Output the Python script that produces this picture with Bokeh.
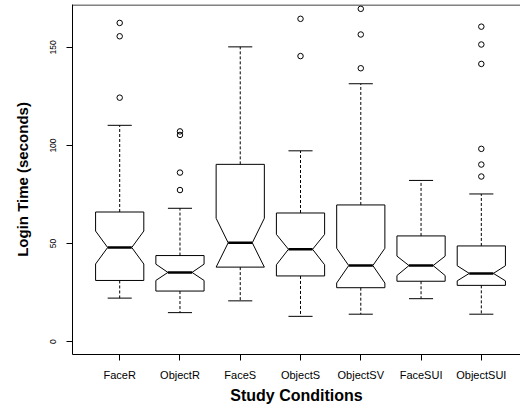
from bokeh.plotting import figure
from bokeh.models import Range1d, FixedTicker, Span
from bokeh.embed import file_html
from bokeh.resources import INLINE

conditions = ["FaceR", "ObjectR", "FaceS", "ObjectS", "ObjectSV", "FaceSUI", "ObjectSUI"]
lower = [22.2, 14.8, 20.8, 12.9, 14.0, 21.9, 14.0]
q1 = [31.2, 25.8, 38.0, 33.5, 27.5, 30.8, 28.7]
median = [48.0, 35.3, 50.4, 47.1, 38.8, 38.8, 34.8]
q3 = [66.1, 43.9, 90.4, 65.6, 69.7, 53.9, 48.8]
upper = [110.3, 68.0, 150.3, 97.3, 131.5, 82.2, 75.3]
notch_lo = [39.6, 31.2, 38.0, 39.2, 29.9, 33.7, 31.0]
notch_hi = [56.4, 39.5, 62.9, 54.7, 47.6, 43.6, 38.7]
outliers = [
    [162.5, 155.7, 124.4],
    [107.2, 105.4, 86.2, 77.3],
    [],
    [164.6, 145.6],
    [169.7, 156.6, 139.4],
    [],
    [160.6, 151.5, 141.6, 98.3, 90.3, 84.2],
]
y_ticks = [0, 50, 100, 150]

FONT = "Liberation Sans"
half_w = 0.4
x_pos = list(range(1, len(conditions) + 1))
Y_END = 171.9

p = figure(width=520, height=406,
           x_range=Range1d(0.2169, 7.650), y_range=Range1d(-6.55, Y_END),
           output_backend="svg", toolbar_location=None,
           min_border_left=72, min_border_right=0, min_border_top=4, min_border_bottom=48)
p.background_fill_color = "white"
p.border_fill_color = "white"
p.outline_line_color = None
p.xgrid.visible = False
p.ygrid.visible = False

# notched boxes
xs, ys = [], []
for i, x in enumerate(x_pos):
    xs.append([x - half_w, x - half_w, x - half_w / 2, x - half_w, x - half_w,
               x + half_w, x + half_w, x + half_w / 2, x + half_w, x + half_w])
    ys.append([q1[i], notch_lo[i], median[i], notch_hi[i], q3[i],
               q3[i], notch_hi[i], median[i], notch_lo[i], q1[i]])
p.patches(xs, ys, fill_color="white", line_color="black", line_width=1)

# whiskers
p.segment(x0=x_pos, y0=q3, x1=x_pos, y1=upper, line_color="black", line_width=1, line_dash="3 2")
p.segment(x0=x_pos, y0=q1, x1=x_pos, y1=lower, line_color="black", line_width=1, line_dash="3 2")
# caps
p.segment(x0=[x - half_w / 2 for x in x_pos], y0=upper, x1=[x + half_w / 2 for x in x_pos], y1=upper,
          line_color="black", line_width=1)
p.segment(x0=[x - half_w / 2 for x in x_pos], y0=lower, x1=[x + half_w / 2 for x in x_pos], y1=lower,
          line_color="black", line_width=1)
# medians
p.segment(x0=[x - half_w / 2 for x in x_pos], y0=median, x1=[x + half_w / 2 for x in x_pos], y1=median,
          line_color="black", line_width=2.5)

# outliers
ox, oy = [], []
for i, vals in enumerate(outliers):
    for v in vals:
        ox.append(x_pos[i])
        oy.append(v)
p.scatter(ox, oy, marker="circle", size=5.5, fill_color=None, line_color="black", line_width=1)

# top frame line (box drawn open on the right, which is off the window)
p.add_layout(Span(location=Y_END - 0.25, dimension="width", line_color="black", line_width=1))

# x axis
xa = p.xaxis[0]
xa.ticker = FixedTicker(ticks=x_pos)
xa.major_label_overrides = {x: c for x, c in zip(x_pos, conditions)}
xa.minor_tick_line_color = None
xa.major_tick_out = 6
xa.major_tick_in = 0
xa.axis_line_color = "black"
xa.major_tick_line_color = "black"
xa.major_label_text_font = FONT
xa.major_label_text_font_size = "11px"
xa.major_label_text_color = "black"
xa.major_label_standoff = 8
xa.axis_label = "Study Conditions"
xa.axis_label_text_font = FONT
xa.axis_label_text_font_style = "bold"
xa.axis_label_text_font_size = "16px"
xa.axis_label_text_color = "black"
xa.axis_label_standoff = 3

# y axis
ya = p.yaxis[0]
ya.ticker = FixedTicker(ticks=y_ticks)
ya.minor_tick_line_color = None
ya.major_tick_out = 6
ya.major_tick_in = 0
ya.axis_line_color = "black"
ya.major_tick_line_color = "black"
ya.major_label_orientation = "vertical"
ya.major_label_text_font = FONT
ya.major_label_text_font_size = "8.5px"
ya.major_label_text_color = "black"
ya.major_label_standoff = 10
ya.axis_label = "Login Time (seconds)"
ya.axis_label_text_font = FONT
ya.axis_label_text_font_style = "bold"
ya.axis_label_text_font_size = "15px"
ya.axis_label_text_color = "black"
ya.axis_label_standoff = 17

open("out.html", "w").write(file_html(p, INLINE))
